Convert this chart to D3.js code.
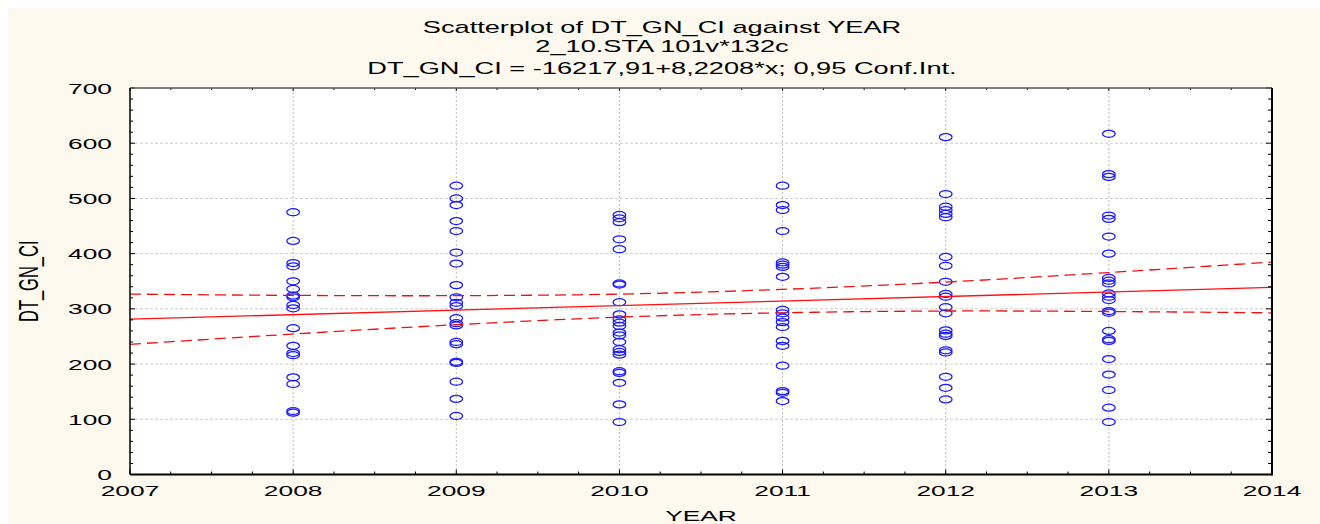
<!DOCTYPE html>
<html>
<head>
<meta charset="utf-8">
<script src="https://cdn.jsdelivr.net/npm/d3@7"></script>
<style>
  html, body { margin: 0; padding: 0; background: #ffffff; }
  svg { display: block; }
  text { font-family: "Liberation Sans", Arial, sans-serif; fill: #000; }
</style>
</head>
<body>
<svg id="chart" width="1320" height="524"></svg>
<script>
// ---- data ----
const titleLines = ["Scatterplot of DT_GN_CI against YEAR", "2_10.STA 101v*132c", "DT_GN_CI = -16217,91+8,2208*x; 0,95 Conf.Int."];
const xTitle = "YEAR";
const yTitle = "DT_GN_CI";
const xTicks = [2007, 2008, 2009, 2010, 2011, 2012, 2013, 2014];
const yTicks = [0, 100, 200, 300, 400, 500, 600, 700];
const years = [2008, 2009, 2010, 2011, 2012, 2013];
const y2008 = [475, 423, 383, 377, 350, 336, 324, 321, 307, 301, 265, 233, 220, 216, 176, 164, 115, 112];
const y2009 = [523, 500, 488, 459, 441, 402, 382, 343, 321, 311, 305, 283, 274, 270, 240, 236, 204, 202, 168, 137, 106];
const y2010 = [470, 464, 457, 426, 408, 346, 344, 312, 290, 281, 275, 269, 257, 252, 240, 227, 222, 217, 187, 184, 166, 127, 95];
const y2011 = [523, 488, 479, 441, 384, 380, 376, 358, 298, 292, 284, 276, 267, 242, 233, 197, 151, 148, 133];
const y2012 = [611, 508, 485, 479, 472, 466, 394, 378, 349, 327, 322, 303, 292, 261, 255, 251, 225, 221, 177, 157, 136];
const y2013 = [617, 544, 539, 469, 463, 431, 400, 356, 351, 346, 328, 322, 316, 296, 293, 260, 245, 242, 209, 181, 153, 121, 95];
const intercept = -16217.91;
const slope = 8.2208;
const bandYears = [2007, 2008, 2009, 2010, 2011, 2012, 2013, 2014];
const bandUpper = [326.7, 324.4, 323.9, 326.7, 335.3, 348.5, 365.8, 384.8];
const bandLower = [235.7, 254.4, 271.3, 285.1, 292.9, 296.1, 295.2, 292.8];

// ---- layout ----
const SX = 1.7; // horizontal stretch of the original picture
const L = 130, R = 1272, T = 88, B = 474.5;
const svg = d3.select("#chart");

svg.append("rect").attr("x", 0).attr("y", 0).attr("width", 1320).attr("height", 524).attr("fill", "#ffffff");
svg.append("rect").attr("x", 8).attr("y", 8).attr("width", 1312).attr("height", 516).attr("fill", "#fdf9ee");
svg.append("rect").attr("x", L).attr("y", T).attr("width", R - L).attr("height", B - T).attr("fill", "#ffffff");

const x = d3.scaleLinear().domain([2007, 2014]).range([L, R]);
const y = d3.scaleLinear().domain([0, 700]).range([B, T]);

function stretchedText(g, tx, ty, str, size, anchor) {
  return g.append("text")
    .attr("transform", `translate(${tx},${ty}) scale(${SX},1)`)
    .attr("text-anchor", anchor)
    .attr("font-size", size)
    .text(str);
}

// gridlines
const grid = svg.append("g");
grid.selectAll("line.h").data(yTicks.filter(d => d > 0 && d < 700)).join("line")
  .attr("x1", L).attr("x2", R).attr("y1", d => y(d)).attr("y2", d => y(d))
  .attr("stroke", "#cccccc").attr("stroke-width", 1).attr("stroke-dasharray", "3,2");
grid.selectAll("line.v").data(xTicks.filter(d => d > 2007 && d < 2014)).join("line")
  .attr("x1", d => x(d)).attr("x2", d => x(d)).attr("y1", T).attr("y2", B)
  .attr("stroke", "#bdbdbd").attr("stroke-width", 1).attr("stroke-dasharray", "2,2");

// points
const series = [y2008, y2009, y2010, y2011, y2012, y2013];
const pts = [];
series.forEach((arr, i) => arr.forEach(v => pts.push({ yr: years[i], v })));
svg.append("g").selectAll("ellipse").data(pts).join("ellipse")
  .attr("cx", d => x(d.yr)).attr("cy", d => y(d.v))
  .attr("rx", 6.3).attr("ry", 3.5)
  .attr("fill", "none").attr("stroke", "#1a1aff").attr("stroke-width", 1.25);

// regression line
svg.append("line")
  .attr("x1", x(2007)).attr("y1", y(intercept + slope * 2007))
  .attr("x2", x(2014)).attr("y2", y(intercept + slope * 2014))
  .attr("stroke", "#ff1010").attr("stroke-width", 1.3);

// confidence bands
const band = d3.line().x(d => x(d[0])).y(d => y(d[1])).curve(d3.curveCatmullRom);
[bandUpper, bandLower].forEach(arr => {
  svg.append("path")
    .attr("d", band(bandYears.map((yr, i) => [yr, arr[i]])))
    .attr("fill", "none").attr("stroke", "#ee1010").attr("stroke-width", 1.3)
    .attr("stroke-dasharray", "11,6");
});

// ticks
const tk = svg.append("g").attr("stroke", "#000").attr("stroke-width", 1);
const yMinor = d3.range(0, 701, 20);
tk.selectAll("line.yl").data(yMinor).join("line")
  .attr("x1", L).attr("x2", d => L + (d % 100 === 0 ? 5 : 3))
  .attr("y1", d => y(d)).attr("y2", d => y(d));
tk.selectAll("line.yr").data(yMinor).join("line")
  .attr("x1", R).attr("x2", d => R - (d % 100 === 0 ? 6 : 4))
  .attr("y1", d => y(d)).attr("y2", d => y(d));
const xMinor = d3.range(0, 29).map(i => 2007 + i * 0.25);
tk.selectAll("line.xb").data(xMinor).join("line")
  .attr("x1", d => x(d)).attr("x2", d => x(d))
  .attr("y1", B).attr("y2", (d, i) => B - (i % 4 === 0 ? 5 : 3));
tk.selectAll("line.xt").data(xMinor).join("line")
  .attr("x1", d => x(d)).attr("x2", d => x(d))
  .attr("y1", T).attr("y2", (d, i) => T + (i % 4 === 0 ? 3 : 2));

// frame
svg.append("line").attr("x1", L).attr("x2", R).attr("y1", T).attr("y2", T).attr("stroke", "#555").attr("stroke-width", 1.5);
svg.append("line").attr("x1", L).attr("x2", L).attr("y1", T).attr("y2", B).attr("stroke", "#000").attr("stroke-width", 1.5);
svg.append("line").attr("x1", R).attr("x2", R).attr("y1", T).attr("y2", B + 1).attr("stroke", "#000").attr("stroke-width", 2);
svg.append("line").attr("x1", L).attr("x2", R).attr("y1", B).attr("y2", B).attr("stroke", "#000").attr("stroke-width", 2);

// tick labels
const lab = svg.append("g");
yTicks.forEach(v => stretchedText(lab, 112, y(v) + 5.5, String(v), 15.5, "end"));
xTicks.forEach(v => stretchedText(lab, x(v), 495.5, String(v), 15.5, "middle"));

// titles
const tt = svg.append("g");
titleLines.forEach((s, i) => stretchedText(tt, 662, [33, 52, 74][i], s, 16, "middle"));
stretchedText(svg, x(2010.5), 521, xTitle, 15.5, "middle");
svg.append("text")
  .attr("transform", `translate(38,${(T + B) / 2}) scale(${SX},1) rotate(-90)`)
  .attr("text-anchor", "middle").attr("font-size", 16.5)
  .text(yTitle);
</script>
</body>
</html>
